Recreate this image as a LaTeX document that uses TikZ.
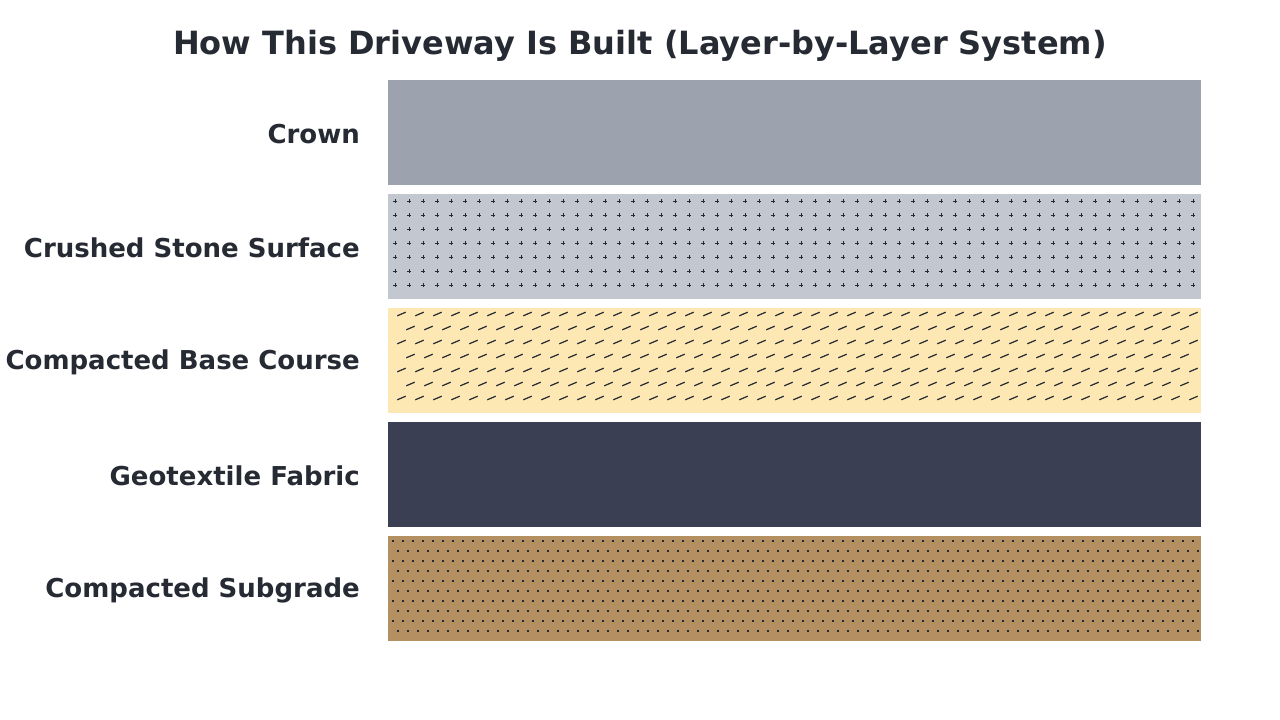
\documentclass[tikz,border=0pt]{standalone}
\usepackage{fontspec}
\setmainfont{DejaVu Sans}
\definecolor{ink}{HTML}{262A33}
\definecolor{crownc}{HTML}{9CA3AF}
\definecolor{stonec}{HTML}{C3C7CF}
\definecolor{basec}{HTML}{FDE7B3}
\definecolor{geoc}{HTML}{3B3F53}
\definecolor{subc}{HTML}{B48F62}
\begin{document}
\begin{tikzpicture}[x=1pt,y=-1pt,
  layer/.style={draw=none,inner sep=0pt,minimum width=813pt,minimum height=105pt,anchor=north west},
  lbl/.style={anchor=east,text=ink,font=\bfseries\fontsize{26}{30}\selectfont,inner sep=0pt},
  mk/.style={ink,line width=1pt}]
\fill[white] (0,0) rectangle (1280,720);
\useasboundingbox (0,0) rectangle (1280,720);
\node[text=ink,font=\bfseries\fontsize{32}{38}\selectfont] (title) at (640,46) {How This Driveway Is Built (Layer-by-Layer System)};
\node[layer,fill=crownc] (crown) at (388,80) {};
\node[layer,fill=stonec] (stone) at (388,194) {};
\node[layer,fill=basec] (base) at (388,308) {};
\node[layer,fill=geoc] (geo) at (388,422) {};
\node[layer,fill=subc] (sub) at (388,536) {};
% crushed stone pluses
\foreach \j in {0,...,6}{
  \foreach \k in {0,...,57}{
    \pgfmathsetmacro{\cx}{395+14*\k}
    \pgfmathsetmacro{\cy}{201+14*\j}
    \draw[mk,line width=1pt] (\cx-1.6,\cy) -- (\cx+1.6,\cy) (\cx,\cy-1.6) -- (\cx,\cy+1.6);
  }}
% base course dashes
\foreach \j in {0,...,6}{
  \pgfmathsetmacro{\off}{mod(\j,2)*9}
  \pgfmathsetmacro{\cy}{314+14*\j}
  \foreach \k in {0,...,44}{
    \pgfmathsetmacro{\cx}{401.5+\off+18*\k}
    \pgfmathparse{\cx<1197?1:0}
    \ifnum\pgfmathresult=1
      \draw[mk,line width=1.2pt] (\cx-4.2,\cy+1.8) -- (\cx+4.2,\cy-1.8);
    \fi
  }}
% subgrade dots
\foreach \j in {0,...,9}{
  \pgfmathsetmacro{\off}{mod(\j,2)*5}
  \pgfmathsetmacro{\cy}{541+10*\j}
  \foreach \k in {0,...,80}{
    \pgfmathsetmacro{\cx}{393+\off+10*\k}
    \pgfmathparse{\cx<1199?1:0}
    \ifnum\pgfmathresult=1
      \fill[ink] (\cx-1.1,\cy-1.1) rectangle (\cx+1.1,\cy+1.1);
    \fi
  }}
\node[lbl] (l1) at (360,134) {Crown};
\node[lbl] (l2) at (360,248) {Crushed Stone Surface};
\node[lbl] (l3) at (360,362) {Compacted Base Course};
\node[lbl] (l4) at (360,476) {Geotextile Fabric};
\node[lbl] (l5) at (360,590) {Compacted Subgrade};
\end{tikzpicture}
\end{document}
